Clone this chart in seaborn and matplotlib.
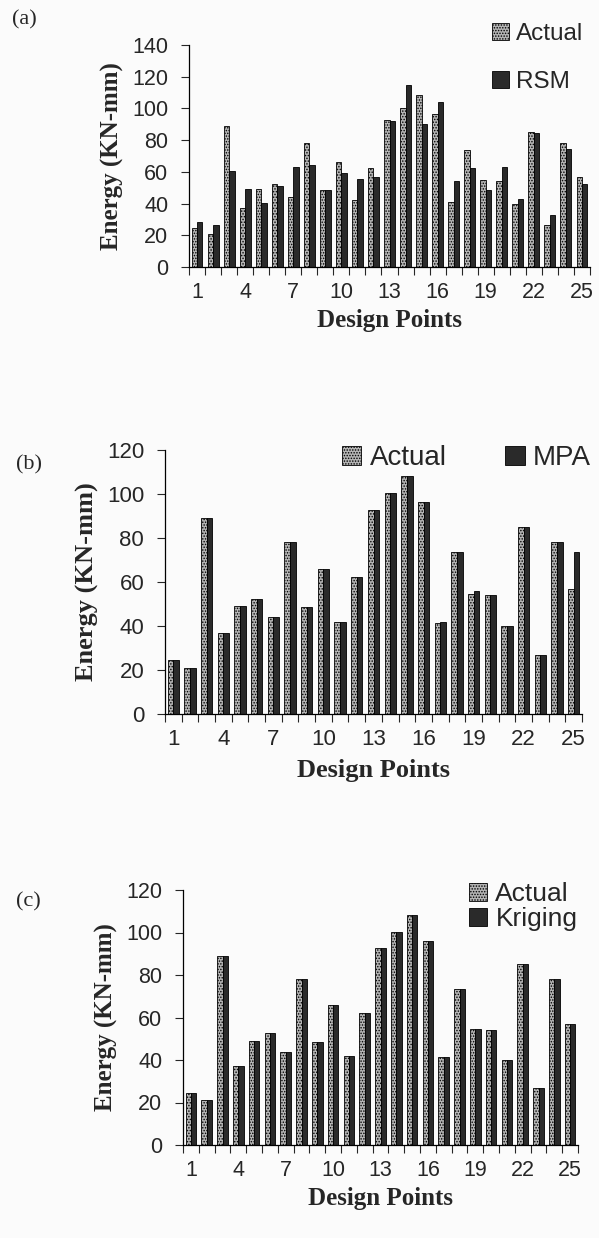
import numpy as np
import pandas as pd
import seaborn as sns
import matplotlib.pyplot as plt

# values (design points 1..25)
points = [str(i) for i in range(1, 26)]
actual = [24.5, 21, 89, 37, 49, 52.5, 44, 78, 48.5, 66, 42, 62.3, 92.8, 100.3, 108.2,
          96.2, 41.3, 73.5, 54.6, 54.2, 40, 85.2, 26.7, 78, 57]
rsm = [28.4, 26.3, 60.6, 49, 40.6, 51.2, 63.2, 64.6, 48.4, 59, 55.4, 57, 92.2, 115, 90.1,
       103.8, 54.5, 62.7, 48.4, 63.2, 43, 84.6, 32.6, 74.1, 52.2]
mpa = [24.5, 21, 89, 37, 49, 52.5, 44, 78, 48.5, 66, 42, 62.3, 92.8, 100.3, 108.2,
       96.2, 42, 73.5, 56, 54.2, 40, 85.2, 26.7, 78, 73.5]
kriging = [24.5, 21, 89, 37, 49, 52.5, 44, 78, 48.5, 66, 42, 62.3, 92.8, 100.3, 108.2,
           96.2, 41.3, 73.5, 54.6, 54.2, 40, 85.2, 26.7, 78, 57]
tick_labels = ['1', '4', '7', '10', '13', '16', '19', '22', '25']

sns.set_theme(style='ticks')
plt.rcParams['font.family'] = ['Liberation Sans', 'DejaVu Sans']
plt.rcParams['hatch.linewidth'] = 0.7
plt.rcParams['hatch.color'] = '#4a4a4a'

fig = plt.figure(figsize=(5.99, 12.38), dpi=100)
fig.patch.set_facecolor('#fbfbfb')

serif_bold = dict(family='Liberation Serif', weight='bold')


def panel(rect, other, other_name, ymax, tick_fs, lab_fs, leg_fs, tag, tag_xy,
          leg_kw, xlabpad):
    ax = fig.add_axes(rect)
    ax.set_facecolor('none')
    df = pd.DataFrame({
        'point': points * 2,
        'energy': actual + other,
        'series': ['Actual'] * 25 + [other_name] * 25,
    })
    sns.barplot(data=df, x='point', y='energy', hue='series',
                palette=['#b4b4b4', '#2a2a2a'], width=0.68, ax=ax,
                edgecolor='black', linewidth=0.6, legend=False)
    for p in ax.containers[0]:
        p.set_hatch('......')
    ax.set_xlim(-0.5, 24.5)
    ax.set_ylim(0, ymax)
    ax.set_yticks(np.arange(0, ymax + 1, 20))
    ax.set_xticks(range(0, 25, 3))
    ax.set_xticklabels(tick_labels)
    ax.set_xticks(np.arange(-0.5, 25, 1), minor=True)
    ax.tick_params(axis='x', which='major', length=0, pad=11, labelsize=tick_fs)
    ax.tick_params(axis='x', which='minor', length=6, width=0.8, direction='out')
    ax.tick_params(axis='y', length=6, width=0.8, direction='out', pad=9,
                   labelsize=tick_fs)
    for s in ['top', 'right']:
        ax.spines[s].set_visible(False)
    for s in ['left', 'bottom']:
        ax.spines[s].set_linewidth(0.9)
        ax.spines[s].set_color('black')
    ax.set_xlabel('Design Points', fontsize=lab_fs, labelpad=xlabpad, **serif_bold)
    ax.set_ylabel('Energy (KN-mm)', fontsize=lab_fs, labelpad=6, **serif_bold)
    ax.legend([ax.containers[0], ax.containers[1]], ['Actual', other_name],
              frameon=False, fontsize=leg_fs, borderpad=0, borderaxespad=0,
              handlelength=0.7, handleheight=0.7, handletextpad=0.3,
              bbox_transform=fig.transFigure, loc='upper left', **leg_kw)
    fig.text(tag_xy[0], tag_xy[1], tag, fontsize=16, family='Liberation Serif',
             ha='center', va='center')
    return ax


W, H = 599.0, 1238.0

panel([189 / W, 1 - 267 / H, 401 / W, 222 / H], rsm, 'RSM', 140, 15.5, 18, 17.5,
      '(a)', (24 / W, 1 - 20 / H),
      dict(bbox_to_anchor=(492 / W, 1 - 23 / H), labelspacing=1.05), 4)

panel([165 / W, 1 - 714 / H, 417 / W, 264 / H], mpa, 'MPA', 120, 16, 19, 20,
      '(b)', (29 / W, 1 - 465 / H),
      dict(bbox_to_anchor=(342 / W, 1 - 445 / H), ncol=2, columnspacing=2.1), 6)

panel([183 / W, 1 - 1145 / H, 395 / W, 255 / H], kriging, 'Kriging', 120, 15.5, 18, 19,
      '(c)', (28 / W, 1 - 902 / H),
      dict(bbox_to_anchor=(469 / W, 1 - 882 / H), labelspacing=0.05), 4)

fig.savefig('out.png', dpi=100, facecolor=fig.get_facecolor())
